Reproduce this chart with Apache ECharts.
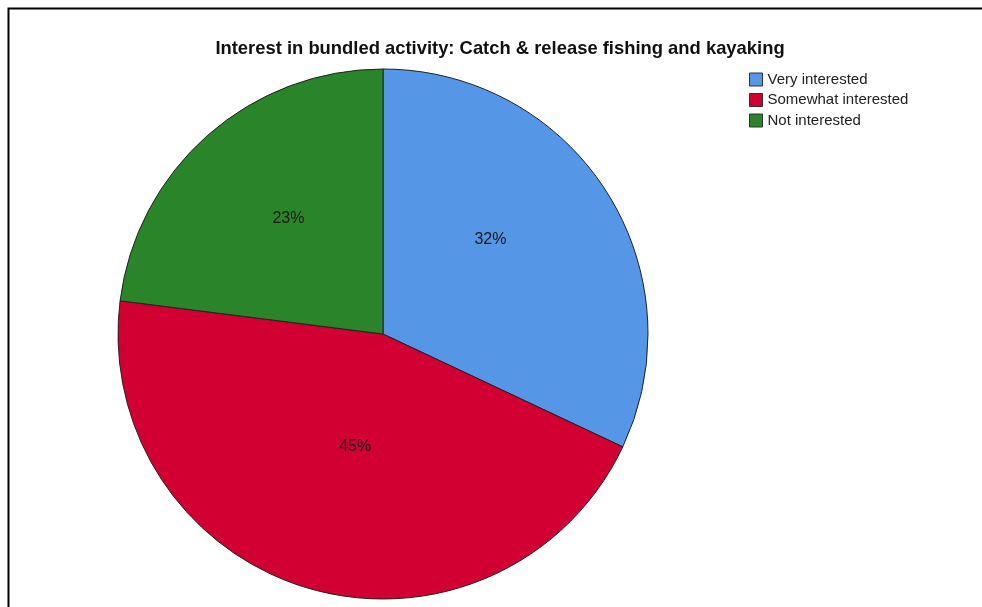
<!DOCTYPE html>
<html>
<head>
<meta charset="utf-8">
<script src="https://cdn.jsdelivr.net/npm/echarts@6/dist/echarts.min.js"></script>
<style>
html,body{margin:0;padding:0;background:#fff;}
#c{width:982px;height:607px;}
</style>
</head>
<body>
<div id="c"></div>
<script>
const titleText = 'Interest in bundled activity: Catch & release fishing and kayaking';
const categories = ['Very interested', 'Somewhat interested', 'Not interested'];
const values = [32, 45, 23];
const colors = ['#5596e6', '#d20032', '#2a852a'];

const FONT = 'Liberation Sans, Arial, sans-serif';
const labelOffsets = [[-7, -22], [10, -18], [-5, -14]];

const chart = echarts.init(document.getElementById('c'), null, {renderer: 'canvas'});
chart.setOption({
  backgroundColor: '#ffffff',
  animation: false,
  graphic: [{
    type: 'rect',
    shape: {x: 8.5, y: 8.5, width: 1000, height: 1000},
    style: {fill: 'none', stroke: '#000', lineWidth: 2},
    silent: true, z: 100
  }],
  title: {
    text: titleText,
    left: 495, top: 35, textAlign: 'center',
    textStyle: {fontFamily: FONT, fontSize: 18.4, fontWeight: 'bold', color: '#111'}
  },
  legend: {
    orient: 'vertical',
    left: 744, top: 67,
    itemWidth: 13, itemHeight: 13, itemGap: 5.5,
    icon: 'rect',
    data: categories,
    textStyle: {fontFamily: FONT, fontSize: 15, lineHeight: 14, color: '#222', padding: [0, 0, 0, 0]},
    itemStyle: {borderColor: '#333', borderWidth: 1}
  },
  series: [{
    type: 'pie',
    center: [383, 334],
    radius: 265,
    startAngle: 90,
    clockwise: true,
    label: {
      position: 'inside',
      formatter: p => p.value + '%',
      fontFamily: FONT,
      fontSize: 16,
      color: '#1a1a1a'
    },
    itemStyle: {borderColor: '#222', borderWidth: 1},
    emphasis: {disabled: true},
    data: categories.map((c, i) => ({
      name: c, value: values[i],
      itemStyle: {color: colors[i]},
      label: {offset: labelOffsets[i]}
    }))
  }]
});
</script>
</body>
</html>
